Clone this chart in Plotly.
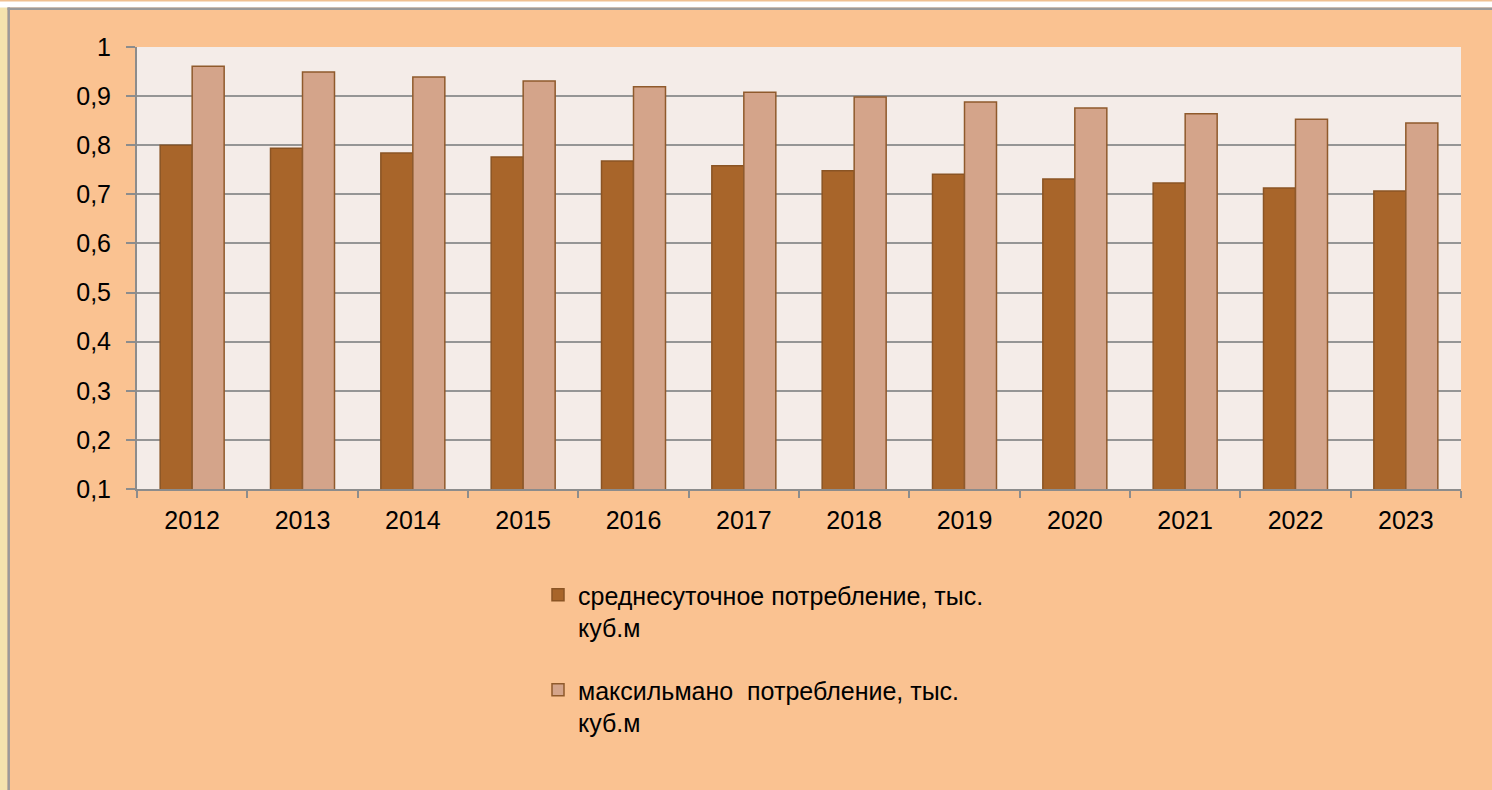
import plotly.graph_objects as go

# годы и значения (тыс. куб.м)
years = ['2012', '2013', '2014', '2015', '2016', '2017',
         '2018', '2019', '2020', '2021', '2022', '2023']
avg_daily = [0.80, 0.794, 0.784, 0.776, 0.768, 0.758,
             0.748, 0.741, 0.731, 0.723, 0.713, 0.707]
max_daily = [0.961, 0.949, 0.939, 0.931, 0.919, 0.908,
             0.898, 0.888, 0.876, 0.864, 0.853, 0.845]
y_ticks = [0.1, 0.2, 0.3, 0.4, 0.5, 0.6, 0.7, 0.8, 0.9, 1.0]
y_labels = ['0,1', '0,2', '0,3', '0,4', '0,5', '0,6', '0,7', '0,8', '0,9', '1']

name_avg = 'среднесуточное потребление, тыс.<br>куб.м'
name_max = 'максильмано  потребление, тыс.<br>куб.м'

fig = go.Figure()

fig.add_trace(go.Bar(
    x=years, y=avg_daily, name=name_avg, legendgroup='a',
    marker=dict(color='#A8652A', line=dict(color='#8A5424', width=1.5)),
))
fig.add_trace(go.Bar(
    x=years, y=max_daily, name=name_max, legendgroup='b',
    marker=dict(color='#D4A48A', line=dict(color='#8F5A2C', width=1.5)),
))

# рамка и левая полоса
W, H = 1492, 790
L, R, T, B = 137, 31, 47, 301
pw, ph = W - L - R, H - T - B

def px(x):
    return (x - L) / pw

def py(y):
    return (H - B - y) / ph

shapes = [
    dict(type='rect', xref='paper', yref='paper', x0=px(0), x1=px(7.5), y0=py(H), y1=py(0),
         fillcolor='#F4E3AE', line=dict(width=0), layer='above'),
    dict(type='rect', xref='paper', yref='paper', x0=px(0), x1=px(W), y0=py(0), y1=py(7.5),
         fillcolor='#FFFFFF', line=dict(width=0), layer='above'),
    dict(type='line', xref='paper', yref='paper', x0=px(0), x1=px(W), y0=py(0.8), y1=py(0.8),
         line=dict(color='#F0C090', width=1.6)),
    dict(type='line', xref='paper', yref='paper', x0=px(7.5), x1=px(W), y0=py(8.7), y1=py(8.7),
         line=dict(color='#9A9A9A', width=2.5)),
    dict(type='line', xref='paper', yref='paper', x0=px(8.7), x1=px(8.7), y0=py(7.5), y1=py(H),
         line=dict(color='#9A9A9A', width=2.5)),
]

fig.update_layout(
    width=W, height=H,
    margin=dict(l=L, r=R, t=T, b=B, pad=0),
    paper_bgcolor='#FAC291',
    plot_bgcolor='#F4ECE8',
    font=dict(family='Liberation Sans, Arial', size=25, color='#000000'),
    barmode='group',
    bargap=0.42,
    bargroupgap=0,
    showlegend=True,
    legend=dict(
        x=px(538), y=py(572), xanchor='left', yanchor='top',
        orientation='v', bgcolor='rgba(0,0,0,0)', valign='top',
        font=dict(size=25), tracegroupgap=27, itemwidth=30,
    ),
    shapes=shapes,
)

fig.update_xaxes(
    type='category', showgrid=False, showline=True, linecolor='#8C8C8C', linewidth=2,
    ticks='outside', tickson='boundaries', ticklen=7, tickcolor='#8C8C8C', tickwidth=2,
    ticklabelstandoff=8, zeroline=False, mirror=False,
)
fig.update_yaxes(
    range=[0.1, 1.0], tickvals=y_ticks, ticktext=y_labels,
    showgrid=True, gridcolor='#959595', gridwidth=2,
    showline=True, linecolor='#8C8C8C', linewidth=2,
    ticks='outside', ticklen=9, tickcolor='#8C8C8C', tickwidth=2,
    ticklabelstandoff=10, zeroline=False,
)

# страница без отступов, чтобы рисунок занимал всё окно
fig.write_html('out.html', config={'displayModeBar': False},
               post_script="document.body.style.margin='0';")
